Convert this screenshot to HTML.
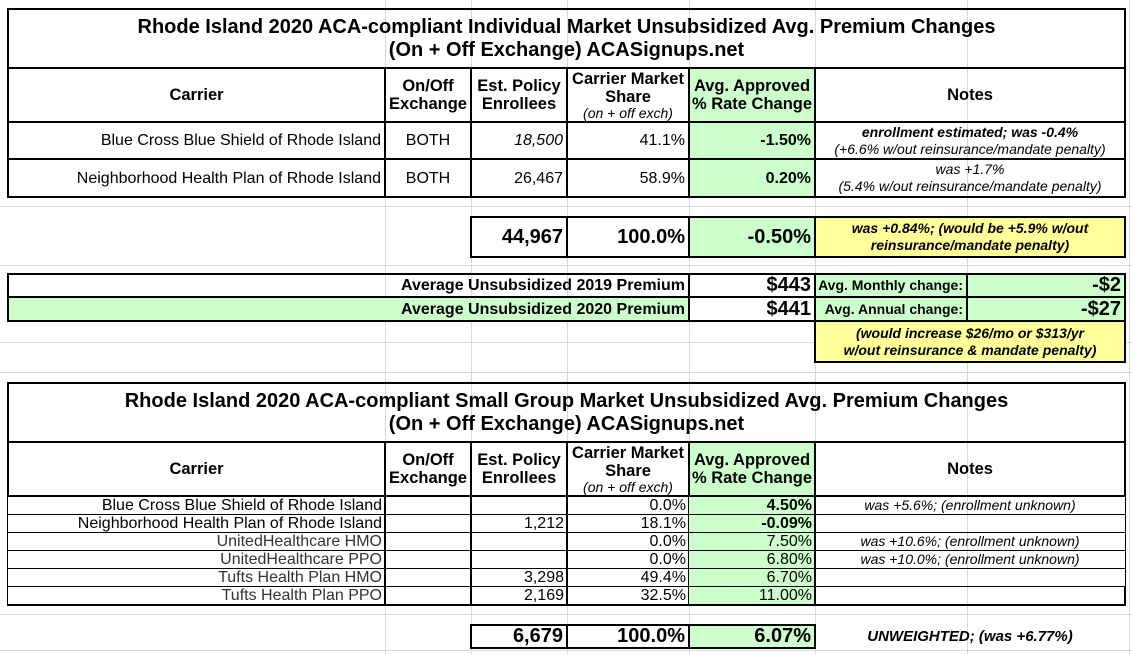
<!DOCTYPE html>
<html><head><meta charset="utf-8"><style>
body{margin:0;width:1132px;height:654px;background:#fff;position:relative;overflow:hidden;font-family:"Liberation Sans",Arial,sans-serif;color:#000}
.g{position:absolute;background:#d8d8d8}
.c{position:absolute;box-sizing:border-box;border:1.5px solid #000;display:flex;align-items:center;padding:0 3px;font-size:16px;line-height:17px;white-space:nowrap}
.r{justify-content:flex-end;text-align:right}
.m{justify-content:center;text-align:center}
.b{font-weight:bold}
.gr{background:#ccffcc}
.ye{background:#ffff99}
.t{font-weight:bold;font-size:20px;line-height:23px;border-width:2px}
.h{font-weight:bold;font-size:16.5px;line-height:18px;border-width:2px}
.n{font-style:italic;font-size:14px;line-height:17px}
</style></head><body>
<div class="g" style="left:385px;top:0;width:1px;height:654px"></div>
<div class="g" style="left:471px;top:0;width:1px;height:654px"></div>
<div class="g" style="left:567px;top:0;width:1px;height:654px"></div>
<div class="g" style="left:689px;top:0;width:1px;height:654px"></div>
<div class="g" style="left:815px;top:0;width:1px;height:654px"></div>
<div class="g" style="left:967px;top:0;width:1px;height:654px"></div>
<div class="g" style="left:1129px;top:0;width:1px;height:654px"></div>
<div class="g" style="left:0;top:206px;width:1132px;height:1px"></div>
<div class="g" style="left:0;top:265px;width:1132px;height:1px"></div>
<div class="g" style="left:0;top:342px;width:1132px;height:1px"></div>
<div class="g" style="left:0;top:372px;width:1132px;height:1px"></div>
<div class="g" style="left:0;top:614px;width:1132px;height:1px"></div>
<div class="g" style="left:0;top:650px;width:1132px;height:1px"></div>

<div class="c m t" style="left:7px;top:8px;width:1119px;height:61px">Rhode Island 2020 ACA-compliant Individual Market Unsubsidized Avg. Premium Changes<br>(On + Off Exchange) ACASignups.net</div>
<div class="c m h" style="left:7px;top:67px;width:379px;height:56px">Carrier</div>
<div class="c m h" style="left:384px;top:67px;width:88px;height:56px">On/Off<br>Exchange</div>
<div class="c m h" style="left:470px;top:67px;width:98px;height:56px">Est. Policy<br>Enrollees</div>
<div class="c m h" style="left:566px;top:67px;width:124px;height:56px;flex-direction:column;justify-content:center">Carrier Market<br>Share<span style="font-style:italic;font-weight:normal;font-size:14px;line-height:15px">(on + off exch)</span></div>
<div class="c m h gr" style="left:688px;top:67px;width:128px;height:56px">Avg. Approved<br>% Rate Change</div>
<div class="c m h" style="left:814px;top:67px;width:312px;height:56px">Notes</div>

<div class="c r" style="left:7px;top:121px;width:379px;height:39px;border-width:2px">Blue Cross Blue Shield of Rhode Island</div>
<div class="c m" style="left:384px;top:121px;width:88px;height:39px;border-width:2px">BOTH</div>
<div class="c r" style="left:470px;top:121px;width:98px;height:39px;border-width:2px;font-style:italic">18,500</div>
<div class="c r" style="left:566px;top:121px;width:124px;height:39px;border-width:2px">41.1%</div>
<div class="c r b gr" style="left:688px;top:121px;width:128px;height:39px;border-width:2px">-1.50%</div>
<div class="c m n" style="left:814px;top:121px;width:312px;height:39px;border-width:2px"><span><b>enrollment estimated; was -0.4%</b><br>(+6.6% w/out reinsurance/mandate penalty)</span></div>

<div class="c r" style="left:7px;top:158px;width:379px;height:40px;border-width:2px">Neighborhood Health Plan of Rhode Island</div>
<div class="c m" style="left:384px;top:158px;width:88px;height:40px;border-width:2px">BOTH</div>
<div class="c r" style="left:470px;top:158px;width:98px;height:40px;border-width:2px">26,467</div>
<div class="c r" style="left:566px;top:158px;width:124px;height:40px;border-width:2px">58.9%</div>
<div class="c r b gr" style="left:688px;top:158px;width:128px;height:40px;border-width:2px">0.20%</div>
<div class="c m n" style="left:814px;top:158px;width:312px;height:40px;border-width:2px"><span>was +1.7%<br>(5.4% w/out reinsurance/mandate penalty)</span></div>

<div class="c r b" style="left:470px;top:216px;width:98px;height:42px;border-width:2px;font-size:20px">44,967</div>
<div class="c r b" style="left:566px;top:216px;width:124px;height:42px;border-width:2px;font-size:20px">100.0%</div>
<div class="c r b gr" style="left:688px;top:216px;width:128px;height:42px;border-width:2px;font-size:20px">-0.50%</div>
<div class="c m n b ye" style="left:814px;top:216px;width:312px;height:42px;border-width:2px"><span>was +0.84%; (would be +5.9% w/out<br>reinsurance/mandate penalty)</span></div>

<div class="c r b" style="left:7px;top:273px;width:683px;height:25px;border-width:2px">Average Unsubsidized 2019 Premium</div>
<div class="c r b" style="left:688px;top:273px;width:128px;height:25px;border-width:2px;font-size:20px">$443</div>
<div class="c r b gr" style="left:814px;top:273px;width:154px;height:25px;border-width:2px;font-size:14px">Avg. Monthly change:</div>
<div class="c r b gr" style="left:966px;top:273px;width:160px;height:25px;border-width:2px;font-size:20px">-$2</div>
<div class="c r b gr" style="left:7px;top:296px;width:683px;height:26px;border-width:2px">Average Unsubsidized 2020 Premium</div>
<div class="c r b" style="left:688px;top:296px;width:128px;height:26px;border-width:2px;font-size:20px">$441</div>
<div class="c r b gr" style="left:814px;top:296px;width:154px;height:26px;border-width:2px;font-size:14px">Avg. Annual change:</div>
<div class="c r b gr" style="left:966px;top:296px;width:160px;height:26px;border-width:2px;font-size:20px">-$27</div>
<div class="c m n b ye" style="left:814px;top:320px;width:312px;height:43px;border-width:2px"><span>(would increase $26/mo or $313/yr<br>w/out reinsurance &amp; mandate penalty)</span></div>

<div class="c m t" style="left:7px;top:382px;width:1119px;height:61px">Rhode Island 2020 ACA-compliant Small Group Market Unsubsidized Avg. Premium Changes<br>(On + Off Exchange) ACASignups.net</div>
<div class="c m h" style="left:7px;top:441px;width:379px;height:56px">Carrier</div>
<div class="c m h" style="left:384px;top:441px;width:88px;height:56px">On/Off<br>Exchange</div>
<div class="c m h" style="left:470px;top:441px;width:98px;height:56px">Est. Policy<br>Enrollees</div>
<div class="c m h" style="left:566px;top:441px;width:124px;height:56px;flex-direction:column;justify-content:center">Carrier Market<br>Share<span style="font-style:italic;font-weight:normal;font-size:14px;line-height:15px">(on + off exch)</span></div>
<div class="c m h gr" style="left:688px;top:441px;width:128px;height:56px">Avg. Approved<br>% Rate Change</div>
<div class="c m h" style="left:814px;top:441px;width:312px;height:56px">Notes</div>

<div class="c r" style="left:7px;top:496px;width:379px;height:19px">Blue Cross Blue Shield of Rhode Island</div>
<div class="c" style="left:384px;top:496px;width:88px;height:19px"></div>
<div class="c r" style="left:470px;top:496px;width:98px;height:19px"></div>
<div class="c r" style="left:566px;top:496px;width:124px;height:19px">0.0%</div>
<div class="c r b gr" style="left:688px;top:496px;width:128px;height:19px">4.50%</div>
<div class="c m n" style="left:814px;top:496px;width:312px;height:19px">was +5.6%; (enrollment unknown)</div>

<div class="c r" style="left:7px;top:514px;width:379px;height:19px">Neighborhood Health Plan of Rhode Island</div>
<div class="c" style="left:384px;top:514px;width:88px;height:19px"></div>
<div class="c r" style="left:470px;top:514px;width:98px;height:19px">1,212</div>
<div class="c r" style="left:566px;top:514px;width:124px;height:19px">18.1%</div>
<div class="c r b gr" style="left:688px;top:514px;width:128px;height:19px">-0.09%</div>
<div class="c m n" style="left:814px;top:514px;width:312px;height:19px"></div>

<div class="c r" style="left:7px;top:532px;width:379px;height:19px;color:#333">UnitedHealthcare HMO</div>
<div class="c" style="left:384px;top:532px;width:88px;height:19px"></div>
<div class="c r" style="left:470px;top:532px;width:98px;height:19px"></div>
<div class="c r" style="left:566px;top:532px;width:124px;height:19px">0.0%</div>
<div class="c r gr" style="left:688px;top:532px;width:128px;height:19px">7.50%</div>
<div class="c m n" style="left:814px;top:532px;width:312px;height:19px">was +10.6%; (enrollment unknown)</div>

<div class="c r" style="left:7px;top:550px;width:379px;height:19px;color:#333">UnitedHealthcare PPO</div>
<div class="c" style="left:384px;top:550px;width:88px;height:19px"></div>
<div class="c r" style="left:470px;top:550px;width:98px;height:19px"></div>
<div class="c r" style="left:566px;top:550px;width:124px;height:19px">0.0%</div>
<div class="c r gr" style="left:688px;top:550px;width:128px;height:19px">6.80%</div>
<div class="c m n" style="left:814px;top:550px;width:312px;height:19px">was +10.0%; (enrollment unknown)</div>

<div class="c r" style="left:7px;top:568px;width:379px;height:19px;color:#333">Tufts Health Plan HMO</div>
<div class="c" style="left:384px;top:568px;width:88px;height:19px"></div>
<div class="c r" style="left:470px;top:568px;width:98px;height:19px">3,298</div>
<div class="c r" style="left:566px;top:568px;width:124px;height:19px">49.4%</div>
<div class="c r gr" style="left:688px;top:568px;width:128px;height:19px">6.70%</div>
<div class="c m n" style="left:814px;top:568px;width:312px;height:19px"></div>

<div class="c r" style="left:7px;top:586px;width:379px;height:20px;color:#333;border-bottom-width:2px">Tufts Health Plan PPO</div>
<div class="c" style="left:384px;top:586px;width:88px;height:20px;border-bottom-width:2px"></div>
<div class="c r" style="left:470px;top:586px;width:98px;height:20px;border-bottom-width:2px">2,169</div>
<div class="c r" style="left:566px;top:586px;width:124px;height:20px;border-bottom-width:2px">32.5%</div>
<div class="c r gr" style="left:688px;top:586px;width:128px;height:20px;border-bottom-width:2px">11.00%</div>
<div class="c m n" style="left:814px;top:586px;width:312px;height:20px;border-bottom-width:2px;border-right-width:2px"></div>

<div class="c r b" style="left:470px;top:624px;width:98px;height:25px;border-width:2px;font-size:20px">6,679</div>
<div class="c r b" style="left:566px;top:624px;width:124px;height:25px;border-width:2px;font-size:20px">100.0%</div>
<div class="c r b gr" style="left:688px;top:624px;width:128px;height:25px;border-width:2px;font-size:20px">6.07%</div>
<div class="c m b" style="left:814px;top:624px;width:312px;height:25px;border:none;font-style:italic;font-size:15px">UNWEIGHTED; (was +6.77%)</div>
</body></html>
